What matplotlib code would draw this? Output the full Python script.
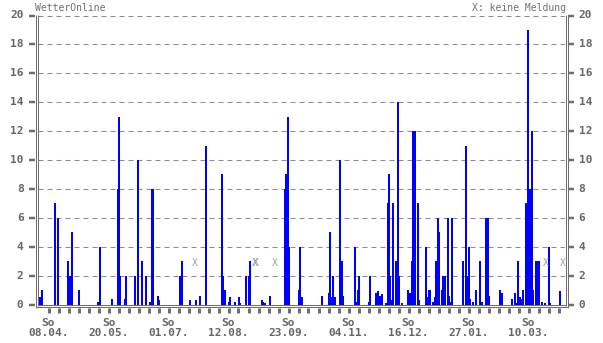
import matplotlib
matplotlib.use("Agg")
import matplotlib.pyplot as plt
from matplotlib.lines import Line2D

# ---- data (day offset from Sunday 01.04.2018, daily precipitation in mm) ----
rain_day = [1, 2, 11, 13, 20, 21, 22, 23, 28, 41, 43, 51, 55, 56, 57, 60, 61, 67, 69, 72,
            75, 78, 79, 80, 83, 84, 99, 100, 106, 110, 113, 117, 128, 129, 130, 133, 134,
            137, 140, 141, 145, 147, 148, 156, 157, 158, 162, 172, 173, 174, 175, 182, 183,
            184, 198, 203, 204, 205, 206, 207, 211, 212, 213, 221, 222, 223, 224, 231, 232,
            236, 237, 239, 240, 243, 244, 245, 246, 247, 248, 250, 251, 252, 254, 258, 260,
            261, 262, 263, 265, 266, 271, 272, 273, 274, 276, 277, 278, 279, 280, 282, 283,
            284, 286, 287, 288, 289, 297, 299, 300, 301, 302, 304, 306, 309, 310, 313, 314,
            315, 323, 324, 331, 333, 334, 335, 337, 338, 339, 341, 342, 343, 344, 345, 346,
            348, 349, 350, 352, 354, 357, 358, 365]
rain_mm = [0.5, 1.0, 7.0, 6.0, 3.0, 0.2, 2.0, 5.0, 1.0, 0.2, 4.0, 0.4, 8.0, 13.0, 2.0, 0.4,
           2.0, 2.0, 10.0, 3.0, 2.0, 0.2, 8.0, 8.0, 0.6, 0.3, 2.0, 3.0, 0.3, 0.3, 0.6, 11.0,
           9.0, 2.0, 1.0, 0.2, 0.5, 0.2, 0.5, 0.1, 2.0, 2.0, 3.0, 0.3, 0.2, 0.1, 0.6, 8.0,
           9.0, 13.0, 4.0, 1.0, 4.0, 0.5, 0.6, 0.8, 5.0, 0.5, 2.0, 0.5, 10.0, 3.0, 0.6, 4.0,
           0.2, 1.0, 2.0, 0.2, 2.0, 0.8, 0.9, 0.6, 0.7, 0.1, 7.0, 9.0, 2.0, 0.3, 7.0, 3.0,
           14.0, 2.0, 0.1, 1.0, 0.8, 3.0, 12.0, 12.0, 7.0, 0.3, 4.0, 0.5, 1.0, 1.0, 0.2, 0.5,
           3.0, 6.0, 5.0, 1.0, 2.0, 2.0, 6.0, 0.6, 0.2, 6.0, 3.0, 11.0, 2.0, 4.0, 0.4, 0.2,
           1.0, 3.0, 0.2, 6.0, 6.0, 0.6, 1.0, 0.8, 0.4, 0.8, 0.1, 3.0, 0.5, 0.4, 1.0, 7.0,
           19.0, 4.0, 8.0, 12.0, 1.0, 3.0, 3.0, 3.0, 0.2, 0.1, 4.0, 0.1, 0.9]
missing_day = [109, 151, 152, 165, 355, 367]
label_days = [7, 49, 91, 133, 175, 217, 259, 301, 343]
label_dates = ["08.04.", "20.05.", "01.07.", "12.08.", "23.09.", "04.11.",
               "16.12.", "27.01.", "10.03."]
weekday = "So"
y_ticks = list(range(0, 21, 2))

# ---- layout (pixel geometry) ----
W, H = 603, 343
fig = plt.figure(figsize=(W / 100, H / 100), dpi=100)
X0, X1 = 38.0, 565.0
PXD = 10.0 / 7.0
Y0, Y20 = 304.5, 15.5
AX = "#6e6e6e"
TXT = "#666666"
MONO = "DejaVu Sans Mono"


def fx(x):
    return x / W


def fy(y):
    return 1 - y / H


ax = fig.add_axes([fx(X0), fy(Y0), (X1 - X0) / W, (Y0 - Y20) / H])
ax.set_xlim(0, (X1 - X0) / PXD)
ax.set_ylim(0, 20)
ax.axis("off")

for v in y_ticks[1:]:
    ax.axhline(v, color="#8c8c8c", lw=0.75, linestyle=(0, (4.8, 3.84)), zorder=1)

ax.bar(rain_day, rain_mm, width=1.4, align="edge", color="#0000ff", lw=0, zorder=2)

for d in missing_day:
    ax.text(d + 0.5, 2.85, "X", ha="center", va="center", fontsize=7, family=MONO,
            color="#a0a0a0", zorder=3, clip_on=False)


def hline(y, x0, x1, w=1.0, c=AX):
    fig.add_artist(Line2D([fx(x0), fx(x1)], [fy(y), fy(y)], lw=w * 0.72, color=c,
                          solid_capstyle="butt"))


def vline(x, y0, y1, w=1.0, c=AX):
    fig.add_artist(Line2D([fx(x), fx(x)], [fy(y0), fy(y1)], lw=w * 0.72, color=c,
                          solid_capstyle="butt"))


# double frame lines
vline(35.5, 15, 307.5)
vline(37.5, 15, 305.5)
vline(565.5, 15, 305.5)
vline(567.5, 15, 307.5)
hline(305.0, 37.5, 565.5)
hline(307.0, 35.5, 567.5)

# y ticks and labels on both sides
for v in y_ticks:
    y = Y0 - v * (Y0 - Y20) / 20
    hline(y, 29, 35, 2.5)
    hline(y, 568, 574, 2.5)
    fig.text(fx(23.5), fy(y), str(v), ha="right", va="center", fontsize=8,
             fontweight="bold", family=MONO, color=TXT)
    fig.text(fx(578.5), fy(y), str(v), ha="left", va="center", fontsize=8,
             fontweight="bold", family=MONO, color=TXT)

# weekly x ticks
for d in range(7, 365, 7):
    x = X0 + d * PXD + 0.5
    vline(x, 307.5, 313, 3)

for d, lab in zip(label_days, label_dates):
    x = X0 + d * PXD + 0.5
    fig.text(fx(x), fy(322.5), weekday, ha="center", va="center", fontsize=8,
             fontweight="bold", family=MONO, color=TXT)
    fig.text(fx(x), fy(333.5), lab, ha="center", va="center", fontsize=8,
             fontweight="bold", family=MONO, color=TXT)

fig.text(fx(35), fy(8), "WetterOnline", ha="left", va="center", fontsize=7,
         family=MONO, color="#707070")
fig.text(fx(566), fy(8), "X: keine Meldung", ha="right", va="center", fontsize=7,
         family=MONO, color="#707070")

fig.savefig("out.png", dpi=100)
